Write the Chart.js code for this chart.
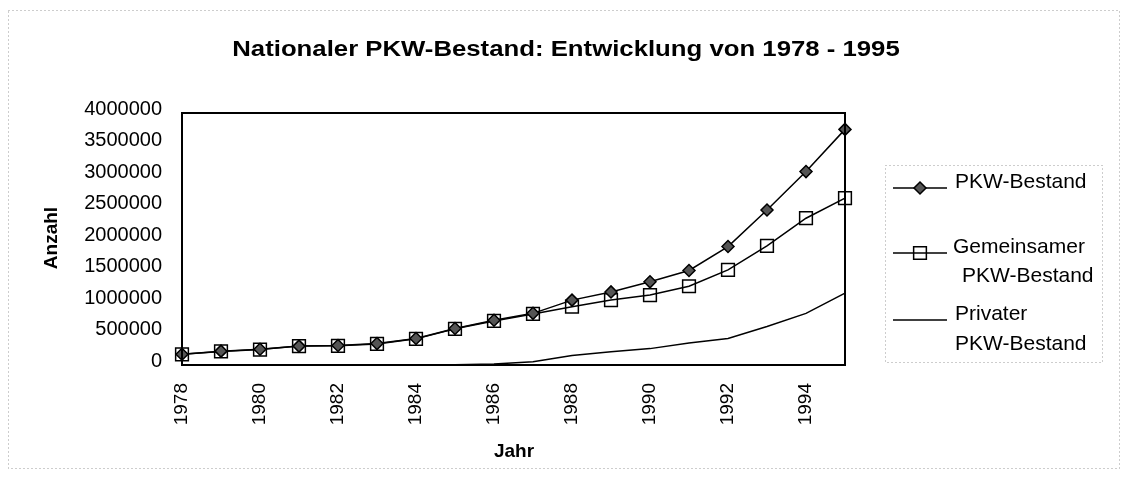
<!DOCTYPE html>
<html><head><meta charset="utf-8">
<script src="https://cdn.jsdelivr.net/npm/chart.js@4.4.0/dist/chart.umd.min.js"></script>
<style>html,body{margin:0;padding:0;background:#fff}#wrap{width:1129px;height:480px}</style>
</head><body><div id="wrap"><canvas id="c" width="1129" height="480"></canvas></div>
<script>
const years = ['1978','1979','1980','1981','1982','1983','1984','1985','1986','1987','1988','1989','1990','1991','1992','1993','1994','1995'];
const pkwBestand = [170000,220000,250000,300000,310000,340000,420000,580000,710000,820000,1030000,1160000,1320000,1500000,1880000,2460000,3070000,3740000];
const gemeinsamerBestand = [170000,215000,245000,300000,305000,335000,415000,575000,700000,810000,925000,1030000,1110000,1250000,1510000,1890000,2330000,2650000];
const privaterBestand = [0,0,0,0,0,0,0,5000,15000,50000,150000,210000,260000,350000,420000,610000,820000,1140000];
const yTicks = [0,500000,1000000,1500000,2000000,2500000,3000000,3500000,4000000];
const titleText = 'Nationaler PKW-Bestand: Entwicklung von 1978 - 1995';
const yTitle = 'Anzahl';
const xTitle = 'Jahr';
const legendLabels = [['PKW-Bestand'],['Gemeinsamer','PKW-Bestand'],['Privater','PKW-Bestand']];

const FONT = '"Liberation Sans", Arial, sans-serif';
const PLOT = {left:182, top:113, right:845, bottom:365};

const deco = {
  id:'deco',
  beforeDraw(chart){
    const ctx = chart.ctx;
    ctx.save();
    ctx.fillStyle = '#fff';
    ctx.fillRect(0,0,chart.width,chart.height);
    ctx.strokeStyle = '#9a9a9a';
    ctx.lineWidth = 1;
    ctx.setLineDash([1,3]);
    ctx.strokeRect(8.5,10.5,1111,458);
    ctx.restore();
  },
  afterDatasetsDraw(chart){
    const ctx = chart.ctx;
    const a = chart.chartArea;
    ctx.save();
    ctx.strokeStyle = '#000';
    ctx.lineWidth = 2;
    ctx.strokeRect(a.left, a.top, a.right-a.left, a.bottom-a.top);
    // title (slightly widened like the scanned original)
    ctx.fillStyle = '#000';
    ctx.textAlign = 'center';
    ctx.textBaseline = 'middle';
    ctx.font = 'bold 22px ' + FONT;
    ctx.save();
    ctx.translate(566, 50);
    ctx.scale(1.17, 1);
    ctx.fillText(titleText, 0, 0);
    ctx.restore();
    // axis titles
    ctx.font = 'bold 19px ' + FONT;
    ctx.fillText(xTitle, 514, 452);
    ctx.save();
    ctx.translate(52, 238);
    ctx.rotate(-Math.PI/2);
    ctx.fillText(yTitle, 0, 0);
    ctx.restore();
    // legend box
    ctx.strokeStyle = '#9a9a9a';
    ctx.lineWidth = 1;
    ctx.setLineDash([1,3]);
    ctx.strokeRect(885.5,165.5,217,197);
    ctx.setLineDash([]);
    const items = [
      {y:188, lines:[[955,188]]},
      {y:253, lines:[[953,253],[962,282]]},
      {y:320, lines:[[955,320],[955,350]]}
    ];
    ctx.font = '21px ' + FONT;
    ctx.textAlign = 'left';
    ctx.textBaseline = 'alphabetic';
    items.forEach((it,i)=>{
      const ds = chart.data.datasets[i];
      ctx.strokeStyle = '#000';
      ctx.lineWidth = ds.borderWidth;
      ctx.beginPath(); ctx.moveTo(893,it.y); ctx.lineTo(947,it.y); ctx.stroke();
      if (ds.pointStyle && ds.pointRadius>0) {
        ctx.fillStyle = ds.pointBackgroundColor;
        ctx.strokeStyle = ds.pointBorderColor;
        ctx.lineWidth = ds.pointBorderWidth;
        ctx.beginPath();
        if (ds.pointStyle==='rectRot'){
          const r = ds.pointRadius;
          ctx.moveTo(920,it.y-r);ctx.lineTo(920+r,it.y);ctx.lineTo(920,it.y+r);ctx.lineTo(920-r,it.y);ctx.closePath();
          ctx.fill();
        } else {
          const s = ds.pointRadius*Math.SQRT1_2;
          ctx.rect(920-s,it.y-s,2*s,2*s);
        }
        ctx.stroke();
      }
      ctx.fillStyle = '#000';
      legendLabels[i].forEach((t,j)=>{ ctx.fillText(t, it.lines[j][0], it.lines[j][1]); });
    });
    ctx.restore();
  }
};

new Chart(document.getElementById('c'), {
  type:'line',
  data:{
    labels: years,
    datasets:[
      {label:'PKW-Bestand', data:pkwBestand, borderColor:'#000', borderWidth:1.5, pointStyle:'rectRot', pointRadius:6, pointBackgroundColor:'#555', pointBorderColor:'#000', pointBorderWidth:1.5, tension:0},
      {label:'Gemeinsamer PKW-Bestand', data:gemeinsamerBestand, borderColor:'#000', borderWidth:1.5, pointStyle:'rect', pointRadius:9, pointBackgroundColor:'transparent', pointBorderColor:'#000', pointBorderWidth:1.5, tension:0},
      {label:'Privater PKW-Bestand', data:privaterBestand, borderColor:'#000', borderWidth:1.5, pointRadius:0, tension:0}
    ]
  },
  options:{
    responsive:false,
    animation:false,
    layout:{padding:{left:0, top:PLOT.top, right:1129-PLOT.right, bottom:0}},
    plugins:{legend:{display:false}, title:{display:false}, tooltip:{enabled:false}},
    scales:{
      x:{
        type:'category',
        offset:false,
        grid:{display:false, drawTicks:false},
        border:{display:false},
        afterFit(s){ s.height = 480 - PLOT.bottom; },
        ticks:{
          autoSkip:false, minRotation:90, maxRotation:90, padding:18, color:'#000',
          font:{family:FONT, size:19},
          callback(v,i){ return i%2===0 ? years[i] : ''; }
        }
      },
      y:{
        min:0, max:4000000,
        grid:{display:false, drawTicks:false},
        border:{display:false},
        afterFit(s){ s.width = PLOT.left; },
        afterBuildTicks(s){ s.ticks = yTicks.map(v=>({value:v})); },
        ticks:{ padding:20, color:'#000', labelOffset:-4, font:{family:FONT, size:20}, callback(v){ return String(v); } }
      }
    }
  },
  plugins:[deco]
});
</script></body></html>
